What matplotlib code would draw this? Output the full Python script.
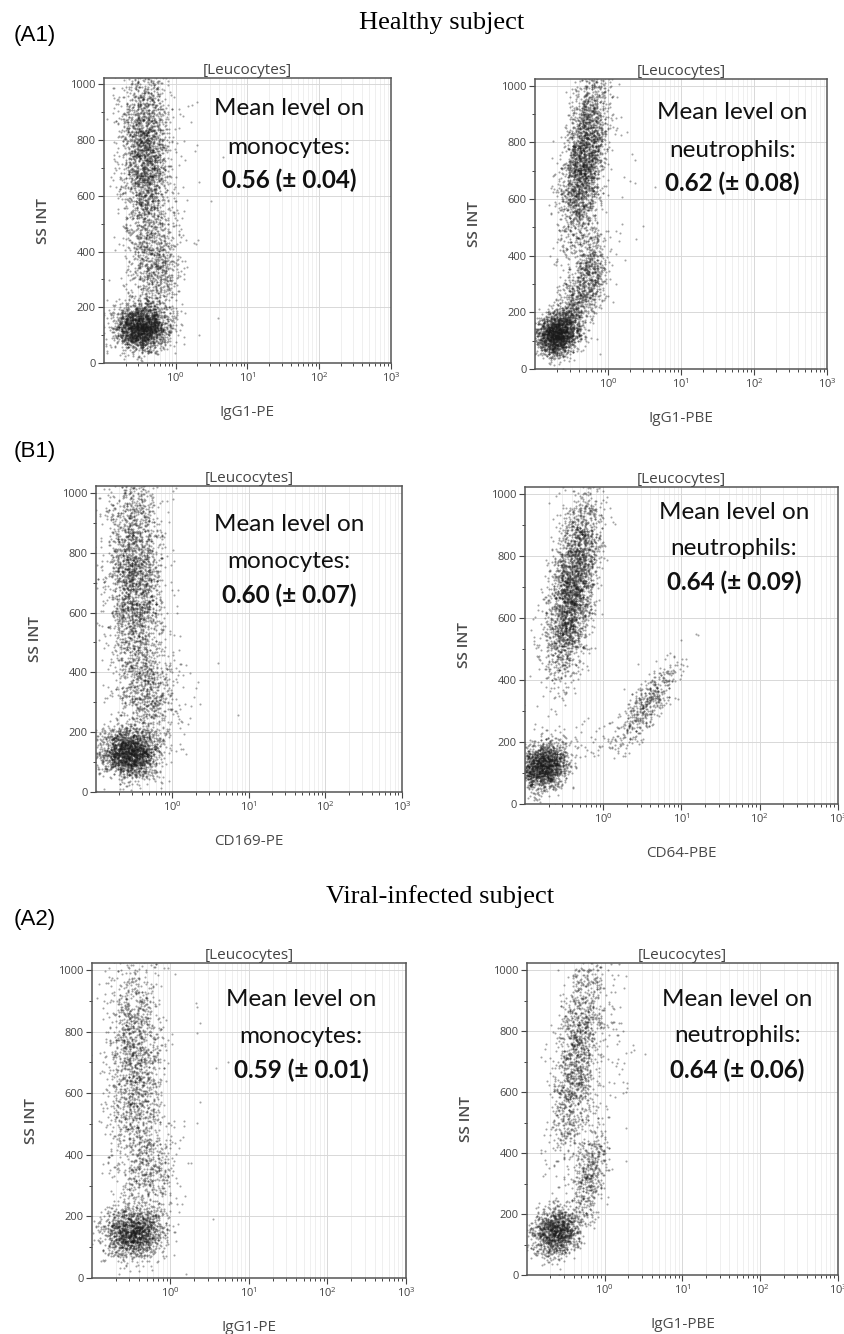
import numpy as np
import matplotlib
matplotlib.use("Agg")
import matplotlib.pyplot as plt
import matplotlib.transforms as mtransforms
from matplotlib.ticker import FixedLocator, MultipleLocator, LogFormatterSciNotation

# ---- cluster descriptions read off the scatter clouds ----
# centre on log10 of the marker axis, centre on SS INT, spread, tilt (log10 per 1000 SS), dot count
a1_left_lx = [-0.48, -0.42, -0.30, 0.10]
a1_left_y = [130, 740, 330, 600]
a1_left_sx = [0.19, 0.18, 0.17, 0.30]
a1_left_sy = [42, 180, 95, 250]
a1_left_tilt = [0.0, 0.0, 0.0, 0.0]
a1_left_n = [2000, 2400, 650, 30]

a1_right_lx = [-0.70, -0.33, -0.25, -0.47, 0.05]
a1_right_y = [125, 740, 330, 230, 700]
a1_right_sx = [0.15, 0.14, 0.12, 0.12, 0.25]
a1_right_sy = [38, 160, 85, 55, 220]
a1_right_tilt = [0.6, 0.5, 0.4, 1.0, 0.0]
a1_right_n = [1800, 2400, 600, 300, 40]

b1_left_lx = [-0.56, -0.50, -0.33, 0.10]
b1_left_y = [130, 720, 320, 350]
b1_left_sx = [0.19, 0.18, 0.19, 0.30]
b1_left_sy = [42, 190, 90, 110]
b1_left_tilt = [0.0, 0.0, 0.0, 0.0]
b1_left_n = [1900, 2400, 650, 40]

b1_right_lx = [-0.76, -0.38, 0.55, -0.45, 0.10]
b1_right_y = [125, 720, 320, 560, 210]
b1_right_sx = [0.15, 0.14, 0.12, 0.15, 0.30]
b1_right_sy = [38, 145, 65, 90, 40]
b1_right_tilt = [0.5, 0.6, 2.6, 0.6, 0.0]
b1_right_n = [1600, 2400, 450, 300, 60]

a2_left_lx = [-0.48, -0.46, -0.28, 0.10]
a2_left_y = [145, 700, 330, 500]
a2_left_sx = [0.18, 0.18, 0.18, 0.30]
a2_left_sy = [42, 195, 95, 250]
a2_left_tilt = [0.0, 0.0, 0.0, 0.0]
a2_left_n = [1400, 1600, 450, 25]

a2_right_lx = [-0.63, -0.36, -0.20, 0.15]
a2_right_y = [140, 720, 330, 780]
a2_right_sx = [0.15, 0.14, 0.11, 0.14]
a2_right_sy = [40, 175, 80, 140]
a2_right_tilt = [0.6, 0.5, 0.6, 0.0]
a2_right_n = [1200, 1400, 450, 60]

# ---- texts ----
x_labels = ["IgG1-PE", "IgG1-PBE", "CD169-PE", "CD64-PBE", "IgG1-PE", "IgG1-PBE"]
cell_types = ["monocytes:", "neutrophils:", "monocytes:", "neutrophils:", "monocytes:", "neutrophils:"]
mean_levels = ["0.56 (\u00b1 0.04)", "0.62 (\u00b1 0.08)", "0.60 (\u00b1 0.07)",
               "0.64 (\u00b1 0.09)", "0.59 (\u00b1 0.01)", "0.64 (\u00b1 0.06)"]
decades = [1, 10, 100, 1000]

clusters = [
    (a1_left_lx, a1_left_y, a1_left_sx, a1_left_sy, a1_left_tilt, a1_left_n),
    (a1_right_lx, a1_right_y, a1_right_sx, a1_right_sy, a1_right_tilt, a1_right_n),
    (b1_left_lx, b1_left_y, b1_left_sx, b1_left_sy, b1_left_tilt, b1_left_n),
    (b1_right_lx, b1_right_y, b1_right_sx, b1_right_sy, b1_right_tilt, b1_right_n),
    (a2_left_lx, a2_left_y, a2_left_sx, a2_left_sy, a2_left_tilt, a2_left_n),
    (a2_right_lx, a2_right_y, a2_right_sx, a2_right_sy, a2_right_tilt, a2_right_n),
]

# ---- layout (pixels: left, right, top, bottom) ----
W, H = 845, 1334
boxes = [(104, 391, 78, 363), (535, 827, 79, 369),
         (96, 402, 486, 792), (525, 838, 487, 804),
         (92, 406, 963, 1278), (527, 838, 963, 1275)]
text_xf = [0.645, 0.675, 0.63, 0.667, 0.666, 0.676]
text_ys = [(914, 774, 656), (905, 771, 655), (893, 769, 659),
           (942, 826, 716), (904, 784, 676), (902, 784, 672)]

rng = np.random.default_rng(7)

fig = plt.figure(figsize=(W / 100, H / 100), dpi=100)
grey = "#444444"

for i, (l, r, t, b) in enumerate(boxes):
    ax = fig.add_axes([l / W, 1 - b / H, (r - l) / W, (b - t) / H])
    lx, yc, sx, sy, tilt, n = clusters[i]
    xs, ys = [], []
    for k in range(len(n)):
        yy = rng.normal(yc[k], sy[k], n[k])
        xx = rng.normal(lx[k], sx[k], n[k]) + tilt[k] * (yy - yc[k]) / 1000
        xs.append(10 ** xx)
        ys.append(yy)
    xs = np.concatenate(xs)
    ys = np.concatenate(ys)
    ax.scatter(xs, ys, s=2.2, c="#1a1a1a", alpha=0.4, linewidths=0, zorder=2)

    ax.set_xscale("log")
    ax.set_xlim(0.1, 1000)
    ax.set_ylim(0, 1023)
    ax.xaxis.set_major_locator(FixedLocator(decades))
    minors = [m * 10.0 ** e for e in range(-1, 3) for m in range(2, 10)]
    ax.xaxis.set_minor_locator(FixedLocator(minors))
    ax.xaxis.set_major_formatter(LogFormatterSciNotation())
    ax.xaxis.set_minor_formatter(plt.NullFormatter())
    ax.yaxis.set_major_locator(MultipleLocator(200))
    ax.yaxis.set_minor_locator(MultipleLocator(100))

    ax.grid(True, which="major", color="#d8d8d8", lw=0.7, zorder=0)
    ax.grid(True, which="minor", axis="x", color="#ececec", lw=0.6, zorder=0)
    ax.tick_params(which="major", direction="out", length=4, width=0.8,
                   colors=grey, labelsize=8, pad=2)
    ax.tick_params(which="minor", direction="out", length=2.5, width=0.7, colors=grey)
    for lab in ax.get_xticklabels() + ax.get_yticklabels():
        lab.set_fontfamily("Open Sans")
    for sp in ax.spines.values():
        sp.set_color("#555555")
        sp.set_linewidth(1.1)

    ax.set_title("[Leucocytes]", fontsize=11, color="#444444", pad=3,
                 fontfamily="Open Sans")
    ax.set_ylabel("SS INT", fontsize=11, color="#4a4a4a", fontweight="semibold",
                  fontfamily="Open Sans")
    ax.yaxis.set_label_coords(-54 / (r - l), 0.5)
    ax.set_xlabel(x_labels[i], fontsize=11, color="#4a4a4a", fontfamily="Open Sans")
    ax.xaxis.set_label_coords(0.5, -42 / (b - t))

    y1, y2, y3 = text_ys[i]
    tr = mtransforms.blended_transform_factory(ax.transAxes, ax.transData)
    ax.text(text_xf[i], y1, "Mean level on", transform=tr, ha="center", va="center",
            fontsize=17.5, fontfamily="Lato", color="#111111", zorder=5)
    ax.text(text_xf[i], y2, cell_types[i], transform=tr, ha="center", va="center",
            fontsize=17.5, fontfamily="Lato", color="#111111", zorder=5)
    ax.text(text_xf[i], y3, mean_levels[i], transform=tr, ha="center", va="center",
            fontsize=17.5, fontfamily="Lato", fontweight="bold", color="#111111", zorder=5)

# headers
fig.text(442 / W, 1 - 23 / H, "Healthy subject", ha="center", va="center",
         fontsize=19, fontfamily="Liberation Serif")
fig.text(440 / W, 1 - 897 / H, "Viral-infected subject", ha="center", va="center",
         fontsize=19, fontfamily="Liberation Serif")
for lab, yy in [("(A1)", 35), ("(B1)", 452), ("(A2)", 920)]:
    fig.text(14 / W, 1 - yy / H, lab, ha="left", va="center",
             fontsize=16, fontfamily="Liberation Sans")

fig.savefig("out.png", dpi=100, facecolor="white")
